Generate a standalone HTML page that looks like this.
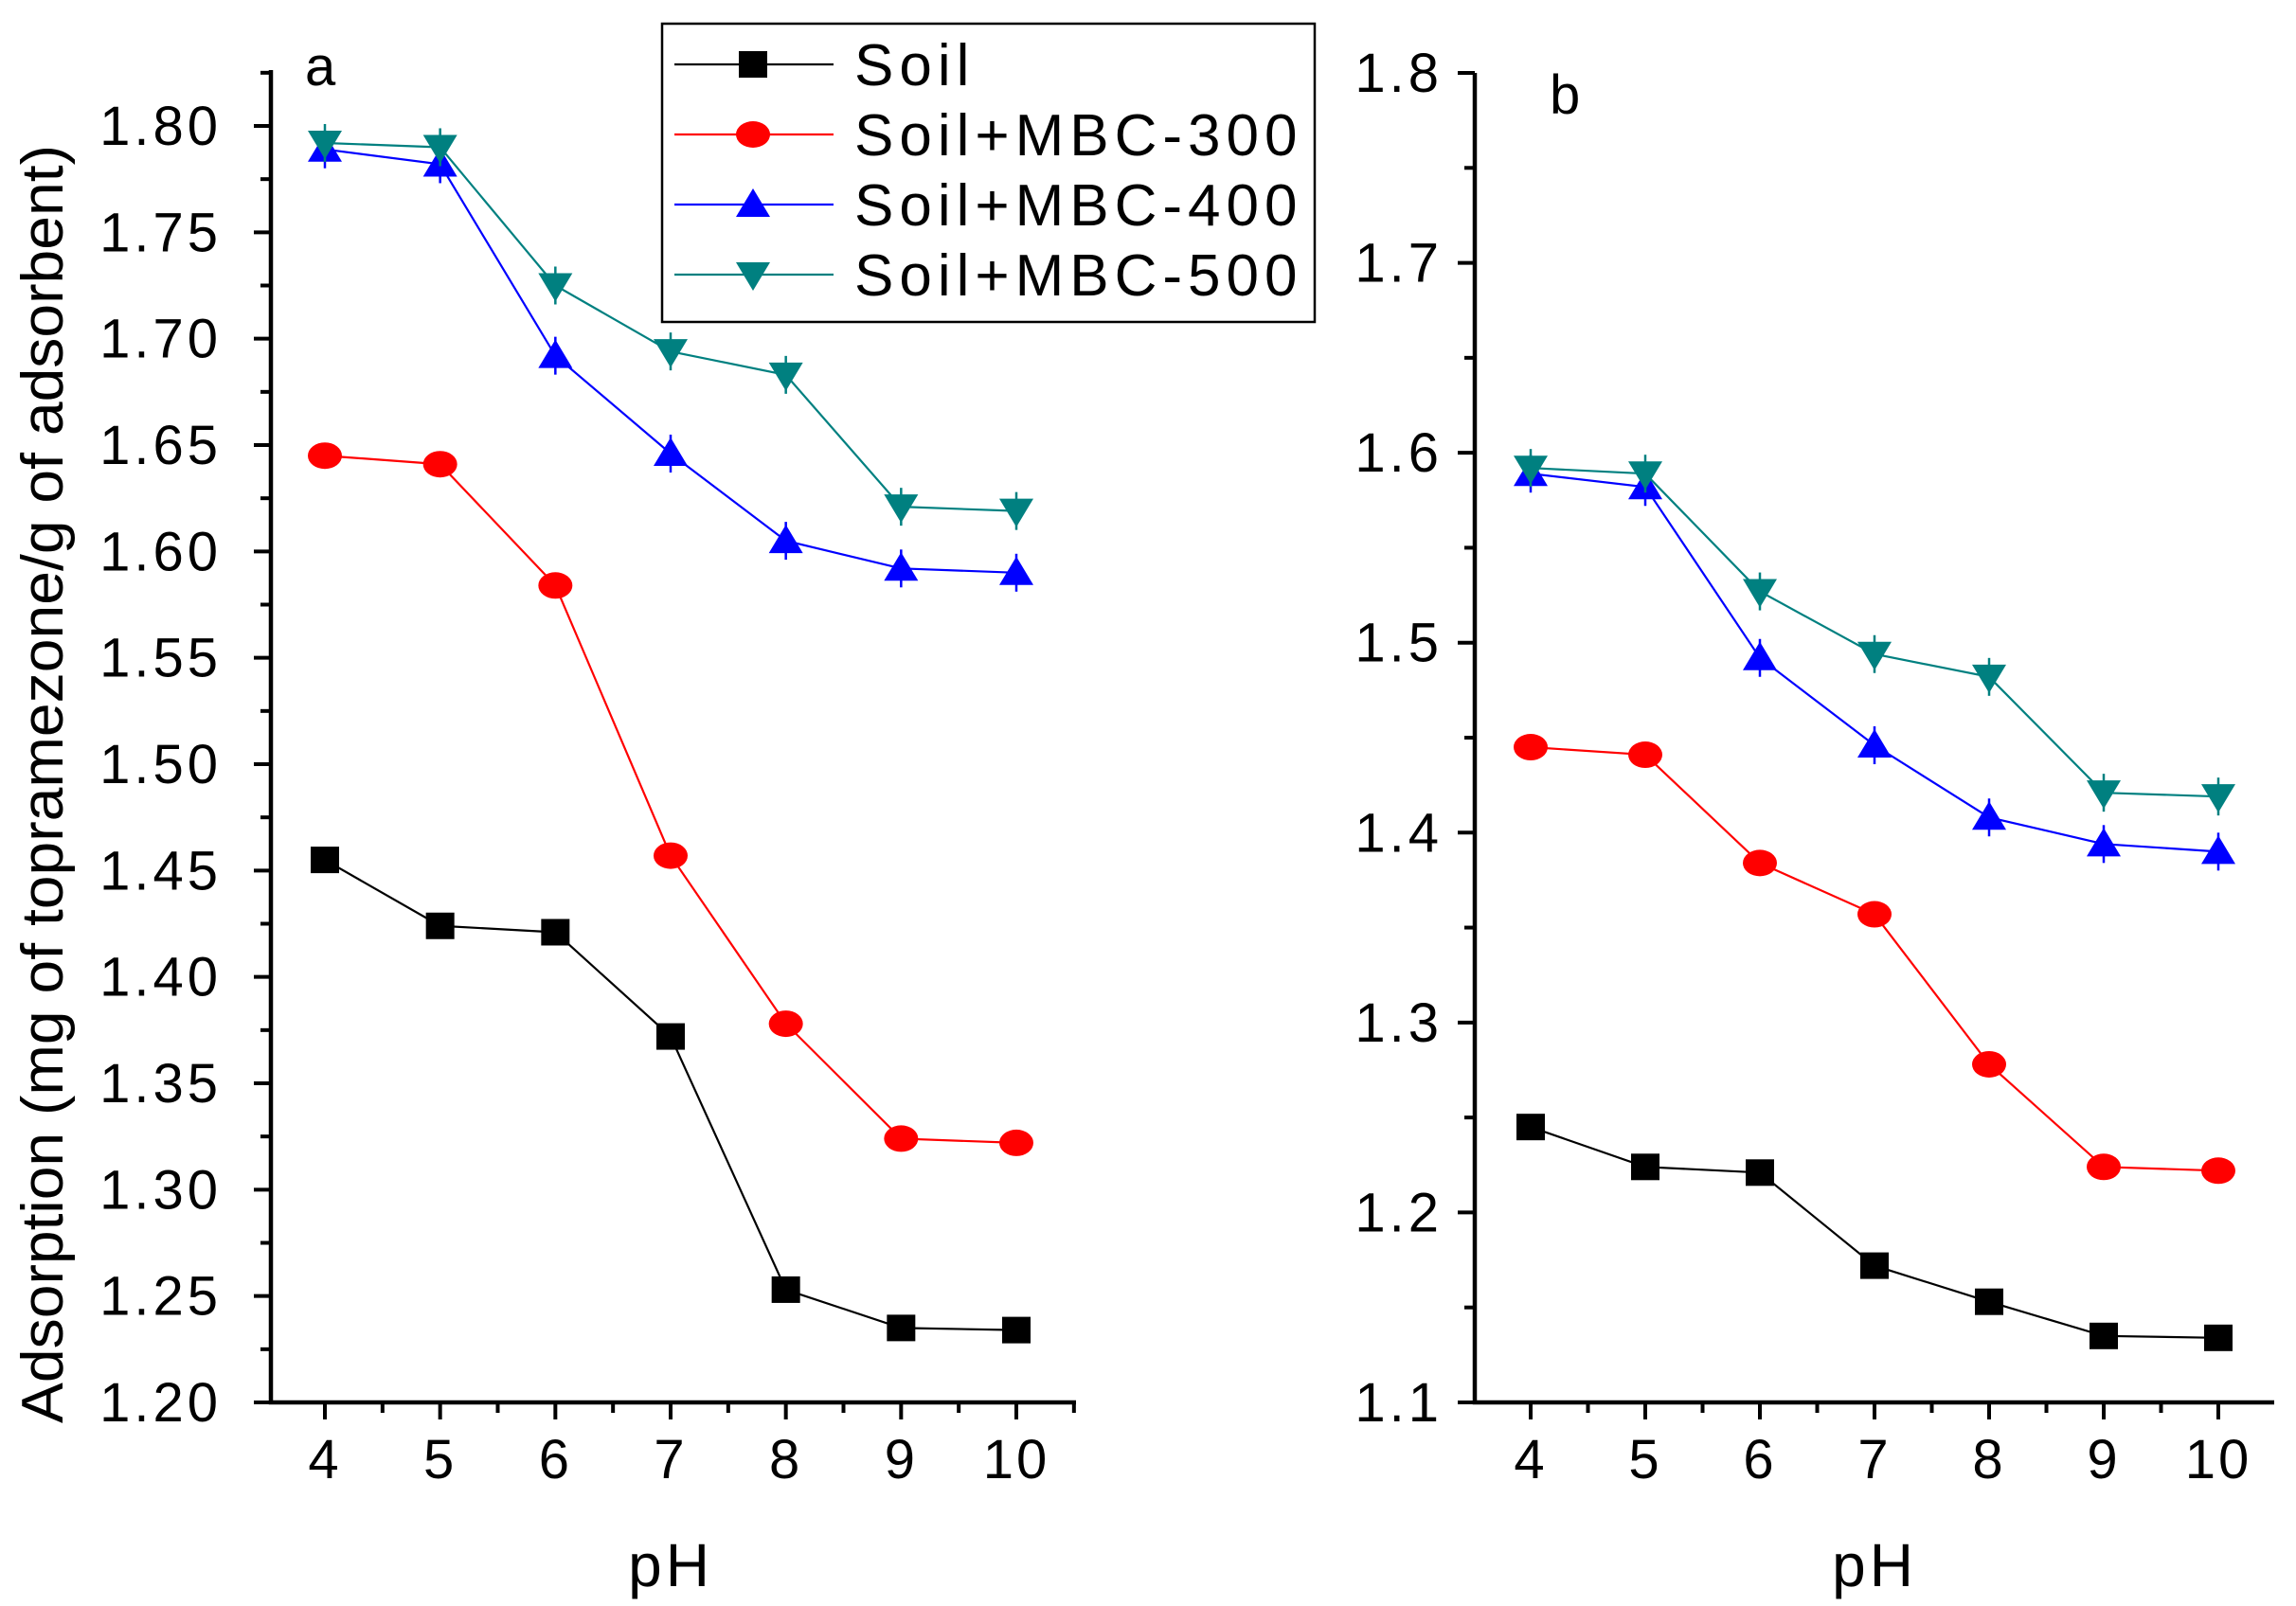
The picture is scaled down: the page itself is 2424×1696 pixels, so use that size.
<!DOCTYPE html>
<html><head><meta charset="utf-8"><style>html,body{margin:0;padding:0;background:#fff}svg{display:block}text{font-family:"Liberation Sans",Arial,sans-serif}</style></head>
<body>
<svg id="chart" width="2424" height="1696" viewBox="0 0 2424 1696" xmlns="http://www.w3.org/2000/svg"></svg>
<script>
const phValues = [4,5,6,7,8,9,10];
const seriesNames = ["Soil","Soil+MBC-300","Soil+MBC-400","Soil+MBC-500"];
const soilA = [1.455,1.424,1.421,1.372,1.253,1.235,1.234];
const mbc300A = [1.645,1.641,1.584,1.457,1.378,1.324,1.322];
const mbc400A = [1.789,1.782,1.692,1.646,1.605,1.592,1.590];
const mbc500A = [1.792,1.790,1.725,1.694,1.683,1.621,1.619];
const soilB = [1.245,1.224,1.221,1.172,1.153,1.135,1.134];
const mbc300B = [1.445,1.441,1.384,1.357,1.278,1.224,1.222];
const mbc400B = [1.589,1.582,1.492,1.446,1.408,1.394,1.390];
const mbc500B = [1.592,1.589,1.527,1.494,1.482,1.421,1.419];
const yTicksA = ["1.20","1.25","1.30","1.35","1.40","1.45","1.50","1.55","1.60","1.65","1.70","1.75","1.80"];
const yTicksB = ["1.1","1.2","1.3","1.4","1.5","1.6","1.7","1.8"];

const NS="http://www.w3.org/2000/svg";
const svg=document.getElementById('chart');
function mk(tag,attrs,parent){const e=document.createElementNS(NS,tag);for(const k in attrs)e.setAttribute(k,attrs[k]);(parent||svg).appendChild(e);return e;}
const colors=["#000000","#ff0000","#0000ff","#008080"];
const markers=["square","circle","up","down"];

function marker(g,type,x,y,c){
  let e;
  if(type==="square") e=mk('rect',{x:x-15,y:y-14,width:30,height:28,fill:c},g);
  else if(type==="circle") e=mk('ellipse',{cx:x,cy:y,rx:18,ry:14,fill:c},g);
  else if(type==="up") e=mk('polygon',{points:`${x},${y-17} ${x-18},${y+13} ${x+18},${y+13}`,fill:c},g);
  else e=mk('polygon',{points:`${x},${y+17} ${x-18},${y-13} ${x+18},${y-13}`,fill:c},g);
  return e;
}

function panel(p){
  const g=mk('g',{});
  
  
  const X=v=>p.x0+(v-4)/(10-4)*(p.x1-p.x0);
  const Y=v=>p.yb+(v-p.ymin)/(p.ymax-p.ymin)*(p.yt-p.yb);
  const ax=mk('path',{d:`M${p.ax},${p.top} L${p.ax},${p.yb} L${p.right},${p.yb}`,stroke:'#000','stroke-width':4.5,fill:'none'},g);
  
  const n=p.yTicks.length;
  for(let i=0;i<n;i++){
    const v=parseFloat(p.yTicks[i]);const y=Y(v);
    mk('line',{x1:p.ax-18,y1:y,x2:p.ax,y2:y,stroke:'#000','stroke-width':4},g);
    const t=mk('text',{x:p.ax-p.lgap,y:y+20,'text-anchor':'end','font-size':58,'letter-spacing':4},g);
    t.textContent=p.yTicks[i];
    
    if(i<n-1){const ym=Y(v+p.step/2);mk('line',{x1:p.ax-11,y1:ym,x2:p.ax,y2:ym,stroke:'#000','stroke-width':4},g);}
  }
  if(p.extraMinor){const ym=Y(p.ymax+p.step/2);mk('line',{x1:p.ax-11,y1:ym,x2:p.ax,y2:ym,stroke:'#000','stroke-width':4},g);}
  for(let v=3.5;v<=10.51;v+=0.5){
    const x=X(v);const major=Math.abs(v-Math.round(v))<0.01;
    if(x>p.ax+2&&x<=p.right) mk('line',{x1:x,y1:p.yb,x2:x,y2:p.yb+(major?18:11),stroke:'#000','stroke-width':4},g);
    if(major&&v>=4){const t=mk('text',{x:x,y:p.yb+80,'text-anchor':'middle','font-size':58,'letter-spacing':3},g);t.textContent=String(v);
      }
  }
  const xt=mk('text',{x:(p.x0+p.x1)/2,y:1675,'text-anchor':'middle','font-size':64,'letter-spacing':4},g);
  xt.textContent='pH';
  const lb=mk('text',{x:p.lx,y:p.ly,'font-size':58},g);lb.textContent=p.label;
  
  p.series.forEach((s,si)=>{
    const sg=mk('g',{},g);
    
    
    const pts=s.map((v,i)=>X(phValues[i])+','+Y(v)).join(' ');
    mk('polyline',{points:pts,fill:'none',stroke:colors[si],'stroke-width':2.2},sg);
    s.forEach((v,i)=>{
      const x=X(phValues[i]),y=Y(v);
      if(si>=2){mk('line',{x1:x,y1:y-20,x2:x,y2:y+20,stroke:colors[si],'stroke-width':2.5},sg);}
      const m=marker(sg,markers[si],x,y,colors[si]);
      
    });
  });
}

panel({name:'panel-a',ax:286,top:74,yb:1481,right:1136,x0:343,x1:1073,ymin:1.2,ymax:1.8,yt:133,step:0.05,yTicks:yTicksA,extraMinor:true,label:'a',lx:322,ly:90,lgap:52,
  series:[soilA,mbc300A,mbc400A,mbc500A]});
panel({name:'panel-b',ax:1557,top:77,yb:1481,right:2401,x0:1616,x1:2342,ymin:1.1,ymax:1.8,yt:77,step:0.1,yTicks:yTicksB,extraMinor:false,label:'b',lx:1636,ly:120,lgap:34,
  series:[soilB,mbc300B,mbc400B,mbc500B]});

const yt=mk('text',{x:0,y:0,'text-anchor':'middle','font-size':62,textLength:1350,lengthAdjust:'spacingAndGlyphs',transform:'translate(66,828) rotate(-90)'});
yt.textContent='Adsorption (mg of topramezone/g of adsorbent)';


const lg=mk('g',{});

mk('rect',{x:699,y:25,width:689,height:315,fill:'#fff',stroke:'#000','stroke-width':2.5},lg);
seriesNames.forEach((nm,i)=>{
  const y=68+i*74;
  const eg=mk('g',{},lg);
  
  mk('line',{x1:712,y1:y,x2:880,y2:y,stroke:colors[i],'stroke-width':2.2},eg);
  marker(eg,markers[i],795,y,colors[i]);
  const t=mk('text',{x:902,y:y+22,'font-size':62,'letter-spacing':6},eg);t.textContent=nm;
});
</script>
</body></html>
